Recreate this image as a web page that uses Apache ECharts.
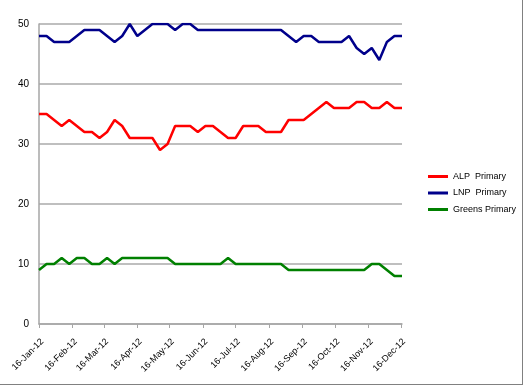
<!DOCTYPE html>
<html>
<head>
<meta charset="utf-8">
<script src="https://cdn.jsdelivr.net/npm/echarts@6/dist/echarts.min.js"></script>
<style>
html,body{margin:0;padding:0;background:#fff;}
#chart{width:523px;height:385px;box-sizing:border-box;border-right:1px solid #808080;border-bottom:1px solid #808080;}
</style>
</head>
<body>
<div id="chart"></div>
<script>
// Weekly poll dates (2012)
var pollDates = [
  '2012-01-16','2012-01-23','2012-01-30',
  '2012-02-06','2012-02-13','2012-02-20','2012-02-27',
  '2012-03-05','2012-03-12','2012-03-19','2012-03-26',
  '2012-04-02','2012-04-09','2012-04-16','2012-04-23','2012-04-30',
  '2012-05-07','2012-05-14','2012-05-21','2012-05-28',
  '2012-06-04','2012-06-11','2012-06-18','2012-06-25',
  '2012-07-02','2012-07-09','2012-07-16','2012-07-23','2012-07-30',
  '2012-08-06','2012-08-13','2012-08-20','2012-08-27',
  '2012-09-03','2012-09-10','2012-09-17','2012-09-24',
  '2012-10-01','2012-10-08','2012-10-15','2012-10-22','2012-10-29',
  '2012-11-05','2012-11-12','2012-11-19','2012-11-26',
  '2012-12-03','2012-12-10','2012-12-17'
];
var alpPrimary = [35,35,34,33,34,33,32,32,31,32,34,33,31,31,31,31,29,30,33,33,33,32,33,33,32,31,31,33,33,33,32,32,32,34,34,34,35,36,37,36,36,36,37,37,36,36,37,36,36];
var lnpPrimary = [48,48,47,47,47,48,49,49,49,48,47,48,50,48,49,50,50,50,49,50,50,49,49,49,49,49,49,49,49,49,49,49,49,48,47,48,48,47,47,47,47,48,46,45,46,44,47,48,48];
var greensPrimary = [9,10,10,11,10,11,11,10,10,11,10,11,11,11,11,11,11,11,10,10,10,10,10,10,10,11,10,10,10,10,10,10,10,9,9,9,9,9,9,9,9,9,9,9,10,10,9,8,8];
var tickDates = ['2012-01-16','2012-02-16','2012-03-16','2012-04-16','2012-05-16','2012-06-16','2012-07-16','2012-08-16','2012-09-16','2012-10-16','2012-11-16','2012-12-16'];
var tickLabels = ['16-Jan-12','16-Feb-12','16-Mar-12','16-Apr-12','16-May-12','16-Jun-12','16-Jul-12','16-Aug-12','16-Sep-12','16-Oct-12','16-Nov-12','16-Dec-12'];
var seriesNames = ['ALP  Primary','LNP  Primary','Greens Primary'];
var seriesColors = ['#ff0000','#00008b','#008000'];

// convert a date string to a day number counted from the axis start
var DAY = 86400000;
function ts(s){var p=s.split('-');return Date.UTC(+p[0],+p[1]-1,+p[2]);}
var t0 = ts(pollDates[0]);
function dayNum(s){return Math.round((ts(s)-t0)/DAY);}
var tickDays = tickDates.map(dayNum);
var labelMap = {};
tickDays.forEach(function(d,i){labelMap[d]=tickLabels[i];});

function pairs(vals){return vals.map(function(v,i){return [dayNum(pollDates[i]),v];});}
var allVals = [alpPrimary,lnpPrimary,greensPrimary];

var chart = echarts.init(document.getElementById('chart'),null,{renderer:'canvas'});
var font = 'Liberation Sans';
chart.setOption({
  animation:false,
  grid:{left:39,right:120,top:24,bottom:60,containLabel:false},
  legend:{
    orient:'vertical',left:423,top:167,
    itemWidth:20,itemHeight:3,itemGap:7.5,icon:'rect',
    textStyle:{fontFamily:font,fontSize:9,color:'#000'},
    data:seriesNames
  },
  xAxis:{
    type:'value',
    min:0,max:dayNum('2012-12-17'),
    splitLine:{show:false},
    axisLine:{lineStyle:{color:'#a6a6a6',width:1.5}},
    axisTick:{show:true,customValues:tickDays,length:4,lineStyle:{color:'#a6a6a6'}},
    axisLabel:{customValues:tickDays,rotate:45,fontFamily:font,fontSize:9,color:'#000',margin:13,
      verticalAlign:'top',
      formatter:function(v){return labelMap[Math.round(v)]||'';}}
  },
  yAxis:{
    type:'value',min:0,max:50,interval:10,
    axisLine:{show:true,lineStyle:{color:'#a6a6a6',width:1.5}},
    axisTick:{show:false},
    splitLine:{lineStyle:{color:'#bfbfbf',width:2}},
    axisLabel:{fontFamily:font,fontSize:10,color:'#000',margin:10}
  },
  series:seriesNames.map(function(n,i){
    return {name:n,type:'line',data:pairs(allVals[i]),showSymbol:false,symbol:'none',
      lineStyle:{color:seriesColors[i],width:2.5},itemStyle:{color:seriesColors[i]},z:3-i};
  })
});
</script>
</body>
</html>
